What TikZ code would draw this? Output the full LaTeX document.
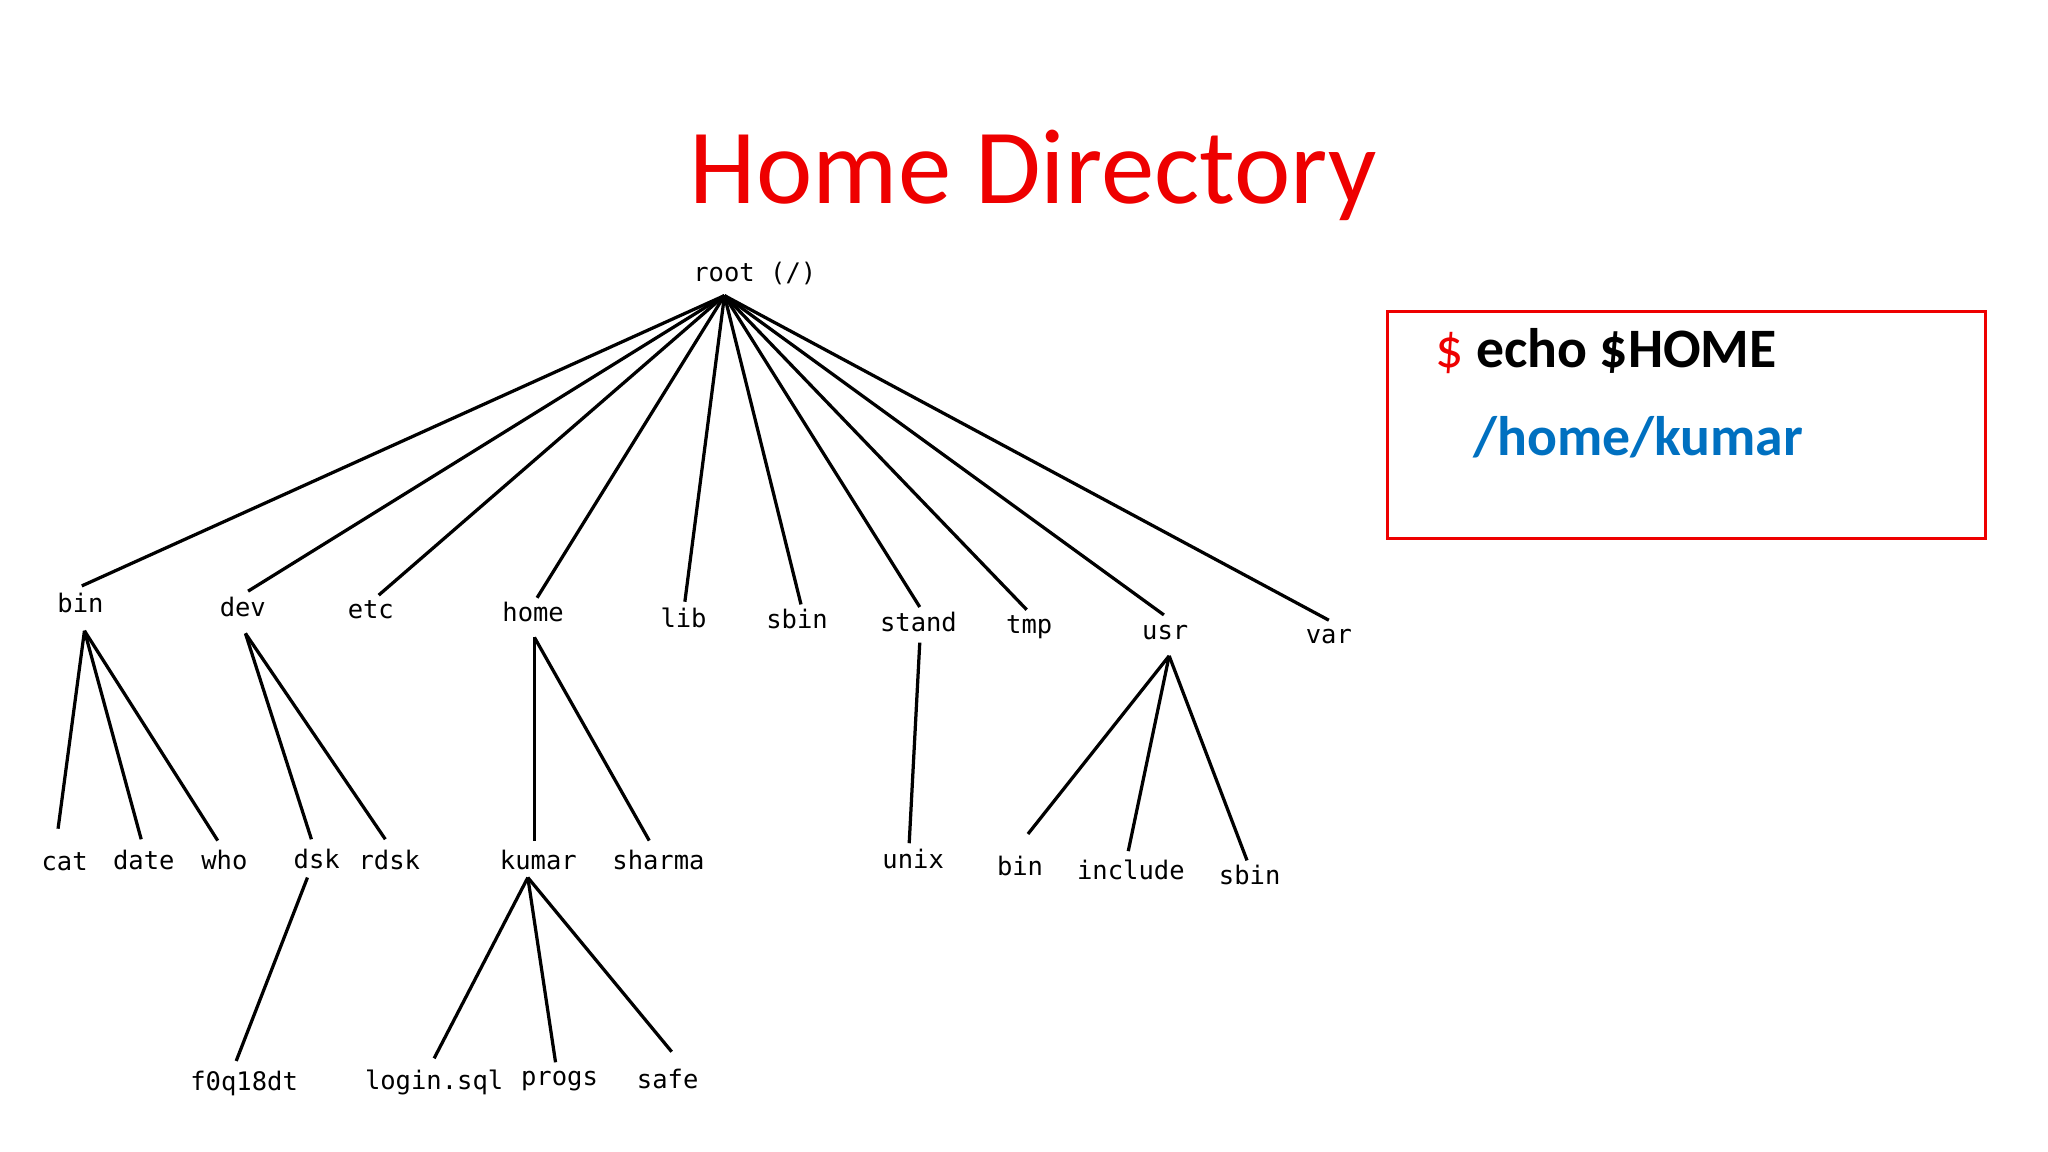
\documentclass[tikz,border=0pt]{standalone}
\usepackage{fontspec}
\setmainfont{Carlito}
\newfontfamily\monof{DejaVu Sans Mono}
\definecolor{titlered}{RGB}{238,0,0}
\definecolor{pathblue}{RGB}{0,112,192}
\begin{document}
\begin{tikzpicture}[x=0.01cm,y=-0.01cm,
  lbl/.style={font=\monof\fontsize{5.5}{7}\selectfont, inner sep=0pt, anchor=center},
  edge/.style={line width=0.7pt, black}]
\useasboundingbox (0,0) rectangle (1552,873);
\node[font=\fontsize{23}{26}\selectfont, text=titlered] (title) at (783,133) {Home Directory};
% labels
\node[lbl] (root) at (572,207) {root (/)};
\foreach \n/\t/\x/\y in {bin/bin/61/457, dev/dev/184/460, etc/etc/281/462,
  home/home/404/464, lib/lib/518/468, sbin/sbin/604/469, stand/stand/696/471, tmp/tmp/780/475,
  usr/usr/883/479, var/var/1007/482, cat/cat/49/653, date/date/109/652, who/who/170/652,
  dsk/dsk/240/651, rdsk/rdsk/295/652, kumar/kumar/408/652, sharma/sharma/499/652,
  unix/unix/692/651, ubin/bin/773/656, include/include/857/659, usbin/sbin/947/663,
  f0q/f0q18dt/185/821, login/login.sql/329/820, progs/progs/424/819, safe/safe/506/818}
  \node[lbl] (\n) at (\x,\y) {\t};
% connector end points
\coordinate (r0) at (549,224);
\foreach \n/\x/\y in {bint/62/444, devt/188/448, etct/287/451, homet/407/453, libt/519/456,
  sbint/607/458, standt/697/460, tmpt/778/462, usrt/882/466, vart/1007/470}
  {\coordinate (\n) at (\x,\y); \draw[edge] (r0) -- (\n);}
\coordinate (binb) at (64,478); \coordinate (devb) at (186,480); \coordinate (homeb) at (405,483);
\coordinate (standb) at (697,487); \coordinate (usrb) at (886,497);
\coordinate (dskb) at (233,665); \coordinate (kumarb) at (400,665);
\foreach \s/\x/\y in {binb/44/628, binb/107/636, binb/165/637, devb/236/636, devb/292/636,
  homeb/405/637, homeb/492/637, standb/689/639, usrb/779/632, usrb/855/645, usrb/945/652,
  dskb/179/804, kumarb/329/802, kumarb/421/805, kumarb/509/797}
  \draw[edge] (\s) -- (\x,\y);
% box
\node[draw=titlered, line width=0.7pt, minimum width=4.53cm, minimum height=1.72cm, anchor=north west] (box) at (1050,235) {};
\node[anchor=west, inner sep=0pt, font=\bfseries\fontsize{12}{14}\selectfont] (cmd) at (1087,266) {\textcolor{titlered}{\mdseries\$} echo \$HOME};
\node[anchor=west, inner sep=0pt, font=\bfseries\fontsize{12}{14}\selectfont, text=pathblue] (out) at (1116,331) {/home/kumar};
\end{tikzpicture}
\end{document}
